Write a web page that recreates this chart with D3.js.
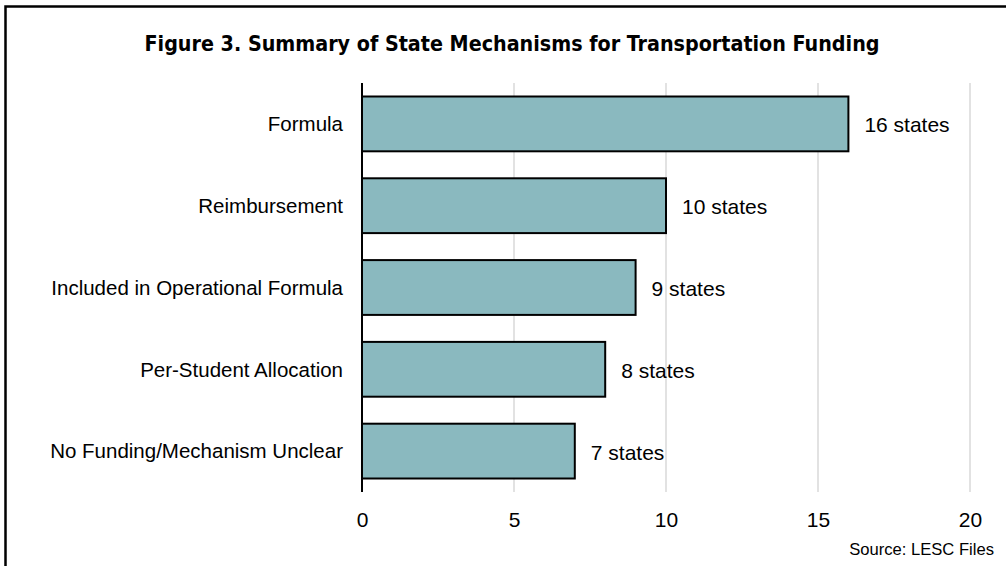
<!DOCTYPE html>
<html>
<head>
<meta charset="utf-8">
<script src="https://cdn.jsdelivr.net/npm/d3@7"></script>
<style>
  body { margin: 0; background: #fff; }
  svg { display: block; }
  text { font-family: "Liberation Sans", Arial, sans-serif; fill: #000; }
  .title { font-family: "Liberation Sans Narrow", "DejaVu Sans Condensed", sans-serif; font-weight: bold; }
</style>
</head>
<body>
<script>
// chart data
var categories = ["Formula", "Reimbursement", "Included in Operational Formula", "Per-Student Allocation", "No Funding/Mechanism Unclear"];
var values = [16, 10, 9, 8, 7];
var valueLabels = ["16 states", "10 states", "9 states", "8 states", "7 states"];
var xTicks = [0, 5, 10, 15, 20];
var titleText = "Figure 3. Summary of State Mechanisms for Transportation Funding";
var sourceText = "Source: LESC Files";

var width = 1006, height = 566;
var margin = {top: 83, right: 36, bottom: 74, left: 362};

var svg = d3.select("body").append("svg").attr("width", width).attr("height", height);

// outer frame (only top and left edges show inside the picture)
svg.append("path")
  .attr("d", "M5.5,580 V6.5 H1020")
  .attr("fill", "none").attr("stroke", "#000").attr("stroke-width", 2.5);

var x = d3.scaleLinear().domain([0, 20]).range([margin.left, 970]);
var y = d3.scaleBand().domain(categories).range([margin.top, height - margin.bottom]).paddingInner(0.33).paddingOuter(0.165);

// gridlines
svg.append("g").selectAll("line").data(xTicks.slice(1)).enter().append("line")
  .attr("x1", function(d) { return x(d); })
  .attr("x2", function(d) { return x(d); })
  .attr("y1", margin.top)
  .attr("y2", height - margin.bottom)
  .attr("stroke", "#d9d9d9").attr("stroke-width", 1.5);

// bars
svg.append("g").selectAll("rect").data(values).enter().append("rect")
  .attr("x", x(0))
  .attr("y", function(d, i) { return y(categories[i]); })
  .attr("width", function(d) { return x(d) - x(0); })
  .attr("height", y.bandwidth())
  .attr("fill", "#8ab9bf")
  .attr("stroke", "#000").attr("stroke-width", 2);

// vertical axis line
svg.append("line")
  .attr("x1", x(0)).attr("x2", x(0))
  .attr("y1", margin.top).attr("y2", height - margin.bottom)
  .attr("stroke", "#000").attr("stroke-width", 2);

// category labels
svg.append("g").selectAll("text").data(categories).enter().append("text")
  .attr("x", x(0) - 19)
  .attr("y", function(d) { return y(d) + y.bandwidth() / 2; })
  .attr("dy", "0.36em")
  .attr("text-anchor", "end")
  .style("font-size", "20.5px")
  .text(function(d) { return d; });

// value labels
svg.append("g").selectAll("text").data(values).enter().append("text")
  .attr("x", function(d) { return x(d) + 16; })
  .attr("y", function(d, i) { return y(categories[i]) + y.bandwidth() / 2; })
  .attr("dy", "0.4em")
  .style("font-size", "21px")
  .text(function(d, i) { return valueLabels[i]; });

// x axis tick labels
var xAxis = d3.axisBottom(x).tickValues(xTicks).tickSize(0).tickPadding(0);
var gx = svg.append("g").attr("transform", "translate(0," + (height - margin.bottom) + ")").call(xAxis);
gx.select(".domain").remove();
gx.selectAll("text")
  .attr("y", 35)
  .attr("dy", 0)
  .style("font-size", "21px")
  .style("font-family", "\"Liberation Sans\", Arial, sans-serif")
  .attr("fill", "#000");

// title
svg.append("text").attr("class", "title")
  .attr("x", 512).attr("y", 51)
  .attr("text-anchor", "middle")
  .attr("textLength", 735)
  .attr("lengthAdjust", "spacingAndGlyphs")
  .style("font-size", "22px")
  .text(titleText);

// source
svg.append("text")
  .attr("x", 994).attr("y", 555)
  .attr("text-anchor", "end")
  .style("font-size", "16.6px")
  .text(sourceText);
</script>
</body>
</html>
